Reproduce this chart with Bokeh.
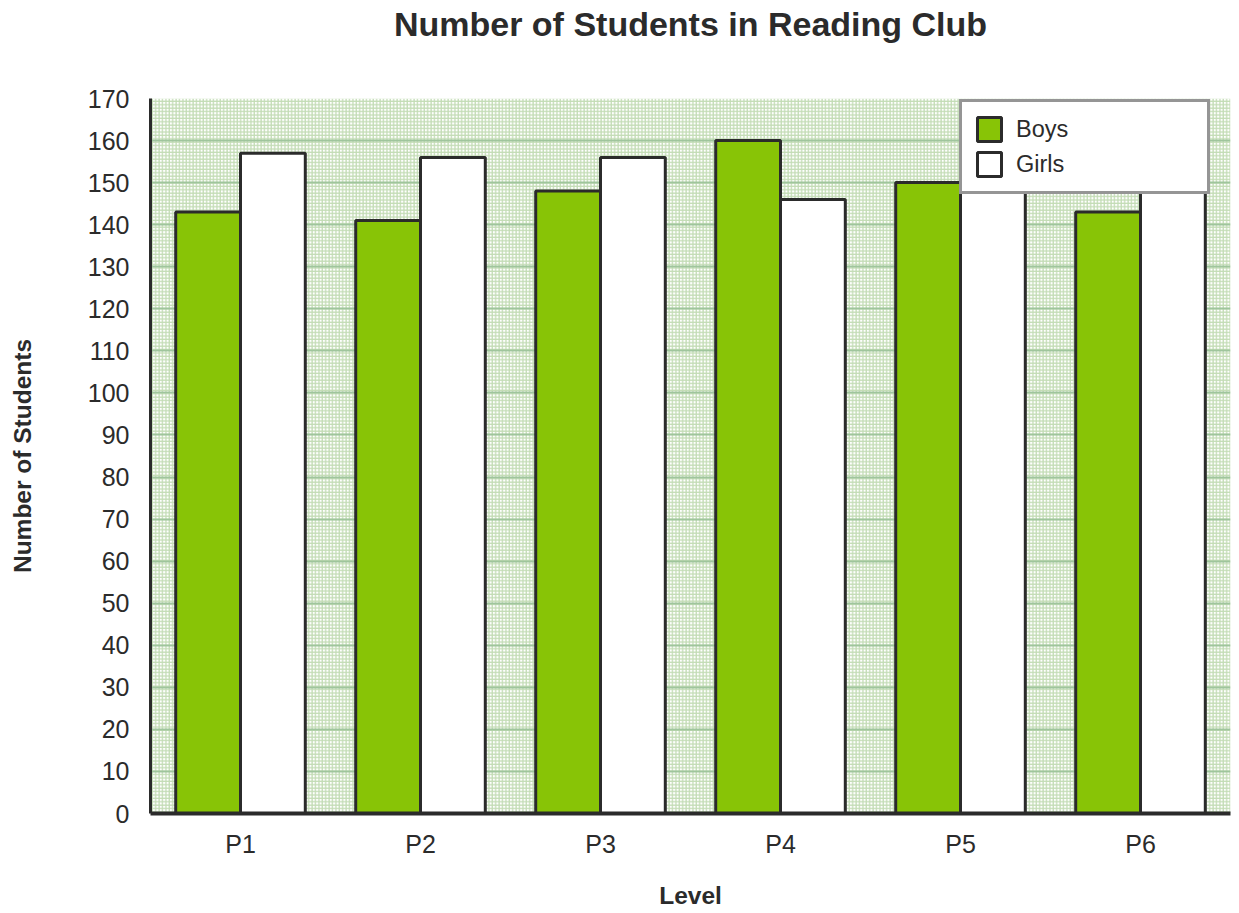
from bokeh.plotting import figure
from bokeh.models import FactorRange, BoxAnnotation, Legend, LegendItem, SingleIntervalTicker, ColumnDataSource, Title
from bokeh.transform import dodge
from bokeh.embed import file_html
from bokeh.resources import INLINE

levels = ["P1", "P2", "P3", "P4", "P5", "P6"]
boys = [143, 141, 148, 160, 150, 143]
girls = [157, 156, 156, 146, 152, 155]
title_text = "Number of Students in Reading Club"
x_label = "Level"
y_label = "Number of Students"

src = ColumnDataSource(dict(level=levels, boys=boys, girls=girls))

FONT = "Liberation Sans"
INK = "#2b2b2b"

p = figure(width=1231, height=913, x_range=FactorRange(*levels), y_range=(0, 170),
           output_backend="svg", toolbar_location=None,
           min_border_left=150, min_border_right=1, min_border_top=98, min_border_bottom=100)
p.outline_line_color = None
p.background_fill_color = "white"

p.title.text = ""
p.title.standoff = 0

# spacer between the frame and the title, then the title itself
spacer = Title(text=" ", text_font_size="1px", standoff=52)
p.add_layout(spacer, "above")
main_title = Title(text=title_text, align="center", text_font=FONT, text_font_size="34px",
                   text_font_style="bold", text_color=INK, standoff=2)
p.add_layout(main_title, "above")

bg = BoxAnnotation(fill_color="white", fill_alpha=1, line_color=None,
                   hatch_pattern="+", hatch_color="#c3dcb5", hatch_scale=3.4, hatch_weight=1.3,
                   level="underlay")
p.center = [bg] + list(p.center)

p.xgrid.grid_line_color = None
p.ygrid.grid_line_color = "#9fc59c"
p.ygrid.grid_line_width = 2
p.ygrid.ticker = SingleIntervalTicker(interval=10)

bw = 0.36
rb = p.vbar(x=dodge("level", -bw / 2, range=p.x_range), top="boys", width=bw, bottom=0, source=src,
            fill_color="#88c406", line_color=INK, line_width=3)
rg = p.vbar(x=dodge("level", bw / 2, range=p.x_range), top="girls", width=bw, bottom=0, source=src,
            fill_color="white", line_color=INK, line_width=3)

p.yaxis.ticker = SingleIntervalTicker(interval=10)
for ax in (p.xaxis[0], p.yaxis[0]):
    ax.major_tick_line_color = None
    ax.minor_tick_line_color = None
    ax.axis_line_color = INK
    ax.major_label_text_font = FONT
    ax.major_label_text_font_size = "25px"
    ax.major_label_text_color = INK
    ax.axis_label_text_font = FONT
    ax.axis_label_text_font_size = "24.5px"
    ax.axis_label_text_font_style = "bold"
    ax.axis_label_text_color = INK
p.yaxis.axis_line_width = 3
p.xaxis.axis_line_width = 4
p.yaxis.axis_label = y_label
p.xaxis.axis_label = x_label
p.yaxis.major_label_standoff = 15
p.yaxis.axis_label_standoff = 49
p.xaxis.major_label_standoff = 10
p.xaxis.axis_label_standoff = 21

legend = Legend(items=[LegendItem(label="Boys", renderers=[rb]), LegendItem(label="Girls", renderers=[rg])],
                location=(809, 619), glyph_width=30, glyph_height=30, padding=12, spacing=5,
                label_standoff=12, label_width=179, label_text_font=FONT, label_text_font_size="23.5px",
                label_text_color=INK, border_line_color=INK, border_line_width=3,
                background_fill_color="white", background_fill_alpha=1, margin=0)
p.add_layout(legend)

open("out.html", "w").write(file_html(p, INLINE))
